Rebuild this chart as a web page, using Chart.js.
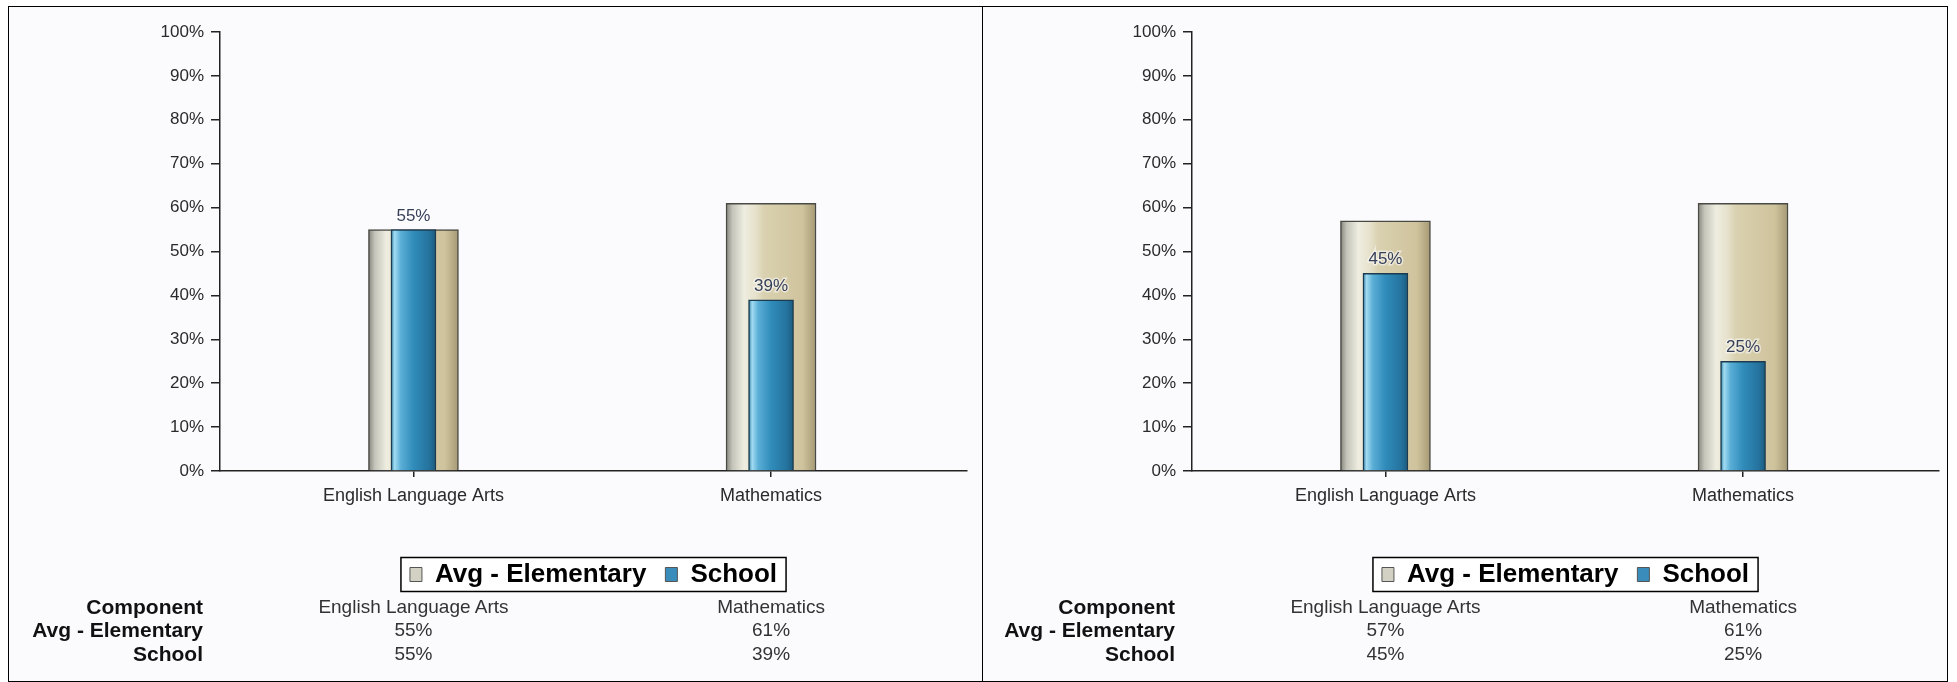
<!DOCTYPE html>
<html lang="en">
<head>
  <meta charset="UTF-8" />
  <title>Avg - Elementary vs School</title>
  <script src="https://cdn.jsdelivr.net/npm/chart.js"></script>
  <style>
    body {
      margin: 0;
      background: #fff;
      font-family: "Liberation Sans", Arial, sans-serif;
    }
    .frame {
      position: absolute;
      left: 8px;
      top: 6px;
      width: 1940px;
      height: 676px;
      border: 1px solid #000;
      box-sizing: border-box;
      background: #fbfbfd;
    }
    .divider {
      position: absolute;
      left: 973px;
      top: 0;
      width: 1px;
      height: 100%;
      background: #000;
    }
    .panel {
      position: absolute;
      top: 0;
      height: 674px;
    }
    .cell {
      position: absolute;
      white-space: nowrap;
      line-height: 1;
      transform: translate(-50%, -50%);
      font-size: 19px;
      color: #333;
    }
    .cell.head {
      transform: translate(-100%, -50%);
      font-weight: bold;
      font-size: 21px;
      color: #111;
    }
  </style>
</head>
<body>
<div class="frame">
  <div class="panel" id="p1" style="left:0;width:972px"><canvas id="c1"></canvas></div>
  <div class="divider"></div>
  <div class="panel" id="p2" style="left:974px;width:963px"><canvas id="c2"></canvas></div>
</div>

<script>
  // data
  const categories = ["English Language Arts", "Mathematics"];
  const seriesNames = ["Avg - Elementary", "School"];
  const tableHeader = "Component";
  const leftAvg = [55, 61];
  const leftSchool = [55, 39];
  const rightAvg = [57, 61];
  const rightSchool = [45, 25];

  const FONT = '"Liberation Sans", Arial, sans-serif';

  const avgStops = [[0, "#85857d"], [0.07, "#c4c4ba"], [0.2, "#eeede0"], [0.33, "#e6e1cb"], [0.42, "#d9d1b0"], [0.85, "#cfc39c"], [1, "#a69a76"]];
  const schoolStops = [[0, "#2a7aa3"], [0.08, "#a2dcf2"], [0.22, "#5aaed6"], [0.5, "#308cba"], [0.85, "#25739e"], [1, "#1b5a7e"]];

  function barFill(stops, width) {
    return (ctx) => {
      const chart = ctx.chart;
      if (ctx.type !== "data" || !chart.chartArea || !chart.scales.x) return stops[3][1];
      const cx = chart.scales.x.getPixelForValue(ctx.parsed.x);
      const g = chart.ctx.createLinearGradient(cx - width / 2, 0, cx + width / 2, 0);
      stops.forEach(([o, c]) => g.addColorStop(o, c));
      return g;
    };
  }

  const valueLabels = {
    id: "valueLabels",
    afterDatasetsDraw(chart) {
      const ctx = chart.ctx;
      const meta = chart.getDatasetMeta(1);
      const data = chart.data.datasets[1].data;
      ctx.save();
      ctx.font = "17px " + FONT;
      ctx.textAlign = "center";
      ctx.textBaseline = "alphabetic";
      meta.data.forEach((el, i) => {
        const txt = data[i].y + "%";
        ctx.lineWidth = 3;
        ctx.strokeStyle = "rgba(255,255,255,0.55)";
        ctx.strokeText(txt, el.x, el.y - 9);
        ctx.fillStyle = "#37405a";
        ctx.fillText(txt, el.x, el.y - 9);
      });
      ctx.restore();
    }
  };

  const legendFrame = {
    id: "legendFrame",
    beforeDraw(chart) {
      const hb = chart.legend && chart.legend.legendHitBoxes;
      if (!hb || !hb.length) return;
      const left = Math.min(...hb.map(b => b.left)) - 9;
      const right = Math.max(...hb.map(b => b.left + b.width)) + 9;
      const mid = hb[0].top + hb[0].height / 2;
      const ctx = chart.ctx;
      ctx.save();
      ctx.fillStyle = "#fff";
      ctx.fillRect(left, mid - 17, right - left, 34);
      ctx.lineWidth = 1.5;
      ctx.strokeStyle = "#000";
      ctx.strokeRect(left, mid - 17, right - left, 34);
      ctx.restore();
    }
  };

  function makePanel(panelId, canvasId, avg, school, axisX, padRight) {
    const chart = new Chart(document.getElementById(canvasId), {
      type: "bar",
      data: {
        datasets: [
          {
            label: seriesNames[0],
            data: avg.map((v, i) => ({ x: i, y: v })),
            backgroundColor: barFill(avgStops, 90),
            borderColor: "#4a4a44",
            borderWidth: 1.5,
            barThickness: 90,
            grouped: false,
            order: 1
          },
          {
            label: seriesNames[1],
            data: school.map((v, i) => ({ x: i, y: v })),
            backgroundColor: barFill(schoolStops, 45),
            borderColor: "#1b3c50",
            borderWidth: 1.5,
            barThickness: 45,
            grouped: false,
            order: 0
          }
        ]
      },
      options: {
        responsive: true,
        maintainAspectRatio: false,
        animation: false,
        events: [],
        layout: { padding: { top: 25, right: padRight, bottom: 83.5, left: 0 } },
        scales: {
          x: {
            type: "linear",
            offset: false,
            min: -0.541,
            max: 1.548,
            afterBuildTicks: (s) => { s.ticks = categories.map((_, i) => ({ value: i })); },
            afterFit: (s) => { s.height = 71.5; },
            ticks: {
              autoSkip: false,
              maxRotation: 0,
              padding: 8,
              color: "#2a2a2a",
              font: { family: FONT, size: 18 },
              callback: (v) => categories[v] ?? ""
            },
            grid: { offset: false, drawOnChartArea: false, tickLength: 6, color: "#222", lineWidth: 1.5 },
            border: { display: true, color: "#222", width: 1.5 }
          },
          y: {
            min: 0,
            max: 100,
            afterFit: (s) => { s.width = axisX; },
            ticks: {
              stepSize: 10,
              padding: 7,
              color: "#2a2a2a",
              font: { family: FONT, size: 17 },
              callback: (v) => v + "%"
            },
            grid: { drawOnChartArea: false, tickLength: 9, color: "#222", lineWidth: 1.5 },
            border: { display: true, color: "#222", width: 1.5 }
          }
        },
        plugins: {
          tooltip: { enabled: false },
          legend: {
            position: "bottom",
            fullSize: false,
            labels: {
              boxWidth: 12,
              boxHeight: 14,
              padding: 19,
              color: "#000",
              font: { family: FONT, size: 26, weight: "bold" },
              sort: (a, b) => a.datasetIndex - b.datasetIndex,
              generateLabels: (ch) => {
                const items = Chart.defaults.plugins.legend.labels.generateLabels(ch);
                const sw = ["#d3d1c4", "#3a8dbb"];
                items.forEach(it => {
                  it.fillStyle = sw[it.datasetIndex];
                  it.strokeStyle = "#555";
                  it.lineWidth = 1;
                });
                return items;
              }
            }
          }
        }
      },
      plugins: [valueLabels, legendFrame]
    });

    // data table under the legend
    const panel = document.getElementById(panelId);
    const rows = [
      [tableHeader, categories],
      [seriesNames[0], avg.map(v => v + "%")],
      [seriesNames[1], school.map(v => v + "%")]
    ];
    const rowY = [599, 622, 646];
    rows.forEach(([head, cells], r) => {
      const h = document.createElement("div");
      h.className = "cell head";
      h.textContent = head;
      h.style.left = (axisX - 17) + "px";
      h.style.top = rowY[r] + "px";
      panel.appendChild(h);
      cells.forEach((txt, i) => {
        const d = document.createElement("div");
        d.className = "cell";
        d.textContent = txt;
        d.style.left = chart.scales.x.getPixelForValue(i) + "px";
        d.style.top = rowY[r] + "px";
        panel.appendChild(d);
      });
    });
    return chart;
  }

  makePanel("p1", "c1", leftAvg, leftSchool, 211, 14);
  makePanel("p2", "c2", rightAvg, rightSchool, 209, 7);
</script>
</body>
</html>
